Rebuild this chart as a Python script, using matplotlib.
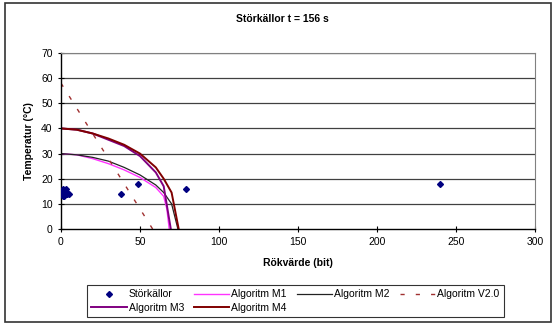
import matplotlib
matplotlib.use('Agg')
import matplotlib.pyplot as plt
from matplotlib.patches import Rectangle

plt.rcParams['font.family'] = ['Liberation Sans', 'DejaVu Sans']

# measured disturbance sources (Rökvärde, Temperatur)
stor_x = [1, 1, 1, 1.5, 2, 2, 2, 2.5, 3, 3, 4, 5, 38, 49, 79, 240]
stor_y = [13, 14, 15, 16, 15, 14, 13, 15, 14, 16, 14, 14, 14, 18, 16, 18]

m1_x = [0, 10, 20, 30, 40, 50, 60, 65, 67, 68.5]
m1_y = [30, 29.5, 28, 26, 23.5, 20.5, 16.5, 13, 8, 0]

m2_x = [0, 10, 20, 30, 40, 50, 60, 65, 70, 74]
m2_y = [30, 29.5, 28.5, 27, 24.5, 21.5, 17.5, 14.5, 10, 0]

v20_x = [0, 58]
v20_y = [58, 0]

m3_x = [0, 10, 20, 30, 40, 50, 60, 65, 69.5]
m3_y = [40, 39.5, 38, 35.5, 33, 29, 22.5, 17, 0]

m4_x = [0, 10, 20, 30, 40, 50, 60, 65, 70, 74.5]
m4_y = [40, 39.5, 38, 36, 33.5, 30, 24.5, 20, 14.5, 0]

fig = plt.figure(figsize=(5.52, 3.24), dpi=100)
ax = fig.add_axes([0.1105, 0.2932, 0.8587, 0.5432])

for yv in range(10, 71, 10):
    ax.axhline(yv, color='#404040', lw=0.9, zorder=0)

h0, = ax.plot(stor_x, stor_y, linestyle='none', marker='D', markersize=3,
              color='#000080', label='Störkällor', zorder=5)
h1, = ax.plot(m1_x, m1_y, color='#ff33ff', lw=1.0, label='Algoritm M1')
h2, = ax.plot(m2_x, m2_y, color='#222222', lw=0.9, label='Algoritm M2')
h3, = ax.plot(v20_x, v20_y, color='#a03030', lw=1.0, linestyle=(0, (3, 8)),
              label='Algoritm V2.0')
h4, = ax.plot(m3_x, m3_y, color='#800080', lw=1.4, label='Algoritm M3')
h5, = ax.plot(m4_x, m4_y, color='#800000', lw=1.4, label='Algoritm M4')

ax.set_xlim(0, 300)
ax.set_ylim(0, 70)
ax.set_xticks(range(0, 301, 50))
ax.set_yticks(range(0, 71, 10))
ax.tick_params(direction='inout', length=4, width=0.8, labelsize=7.5, pad=4)

ax.spines['top'].set_color('#808080')
ax.spines['right'].set_color('#808080')
for s in ['left', 'bottom']:
    ax.spines[s].set_color('black')
    ax.spines[s].set_linewidth(1.0)

ax.set_xlabel('Rökvärde (bit)', fontsize=7.5, fontweight='bold', labelpad=8)
ax.set_ylabel('Temperatur (°C)', fontsize=7.5, fontweight='bold', labelpad=5)
fig.text(0.511, 0.941, 'Störkällor t = 156 s', fontsize=7.5, fontweight='bold',
         ha='center', va='center')

# column-major order so rows read like the original legend
order = [h0, h4, h1, h5, h2, h3]
leg = ax.legend(order, [h.get_label() for h in order], loc='center',
                bbox_to_anchor=(0.535, 0.071), bbox_transform=fig.transFigure,
                ncol=4, fontsize=7.5, frameon=True, fancybox=False,
                edgecolor='black', handlelength=3.4, handletextpad=0.2,
                columnspacing=0.95, borderpad=0.4, labelspacing=0.3,
                borderaxespad=0)
leg.get_frame().set_linewidth(0.8)

# outer chart border
fig.patches.append(Rectangle((5 / 552, 2 / 324), 546 / 552, 319 / 324,
                             transform=fig.transFigure, fill=False,
                             edgecolor='#333333', lw=1.2))

fig.savefig('out.png', dpi=100)
